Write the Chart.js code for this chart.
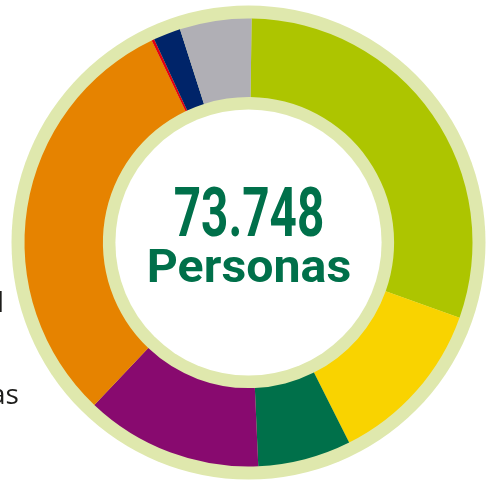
<!DOCTYPE html>
<html>
<head>
<meta charset="utf-8">
<script src="https://cdn.jsdelivr.net/npm/chart.js@4"></script>
<style>
  body { margin: 0; background: #fff; overflow: hidden; }
  #wrap { position: relative; width: 487px; height: 481px; }
  .center {
    position: absolute;
    left: 248.5px;
    font-family: Roboto, sans-serif;
    font-weight: 700;
    color: #00704a;
    line-height: 1;
    white-space: nowrap;
  }
  #total { top: 178px; font-size: 69px; transform: translateX(-50%) scaleX(0.69); }
  #unit { top: 243px; font-size: 46px; transform: translateX(-50%) scaleX(1.05); }
  .frag {
    position: absolute;
    font-family: "Open Sans", sans-serif;
    font-size: 28px;
    line-height: 1;
    color: #1d1d1b;
    white-space: nowrap;
  }
</style>
</head>
<body>
<div id="wrap">
  <canvas id="chart_1" width="487" height="481"></canvas>
  <div class="center" id="total"></div>
  <div class="center" id="unit">Personas</div>
  <span class="frag" style="left:-3px; top:287px;">l</span>
  <span class="frag" style="left:-10px; top:379px;">as</span>
</div>
<script>
const labels = ["Grupo 1", "Grupo 2", "Grupo 3", "Grupo 4", "Grupo 5", "Grupo 6", "Grupo 7", "Grupo 8"];
const personas = [22288, 8952, 4958, 9423, 22718, 143, 1454, 3812];
const colores = ["#adc500", "#f9d300", "#00704a", "#880a6f", "#e68300", "#e3000f", "#002469", "#b0afb5"];
const unidad = "Personas";

// total shown in the middle, Spanish thousands separator
const total = personas.reduce((a, b) => a + b, 0);
document.getElementById("total").textContent = String(total).replace(/\B(?=(\d{3})+(?!\d))/g, ".");
document.getElementById("unit").textContent = unidad;

// light green rings around and inside the donut
const rings = {
  id: "rings",
  beforeDatasetsDraw(chart) {
    const arc = chart.getDatasetMeta(0).data[0];
    if (!arc) return;
    const ctx = chart.ctx;
    ctx.save();
    ctx.fillStyle = "#dfe8ad";
    ctx.beginPath();
    ctx.arc(arc.x, arc.y, arc.outerRadius + 13, 0, Math.PI * 2);
    ctx.fill();
    ctx.fillStyle = "#ffffff";
    ctx.beginPath();
    ctx.arc(arc.x, arc.y, arc.innerRadius - 12.5, 0, Math.PI * 2);
    ctx.fill();
    ctx.restore();
  },
};

const ct_1 = document.getElementById("chart_1");

new Chart(ct_1, {
  type: "doughnut",
  data: {
    labels: labels,
    datasets: [
      {
        data: personas,
        backgroundColor: colores,
        borderWidth: 0,
      },
    ],
  },
  options: {
    responsive: false,
    animation: false,
    events: [],
    rotation: 0.8,
    radius: 224,
    cutout: "65%",
    layout: { padding: { left: 10, right: 0, top: 4, bottom: 0 } },
    plugins: {
      legend: { display: false },
      tooltip: { enabled: false },
    },
  },
  plugins: [rings],
});
</script>
</body>
</html>
